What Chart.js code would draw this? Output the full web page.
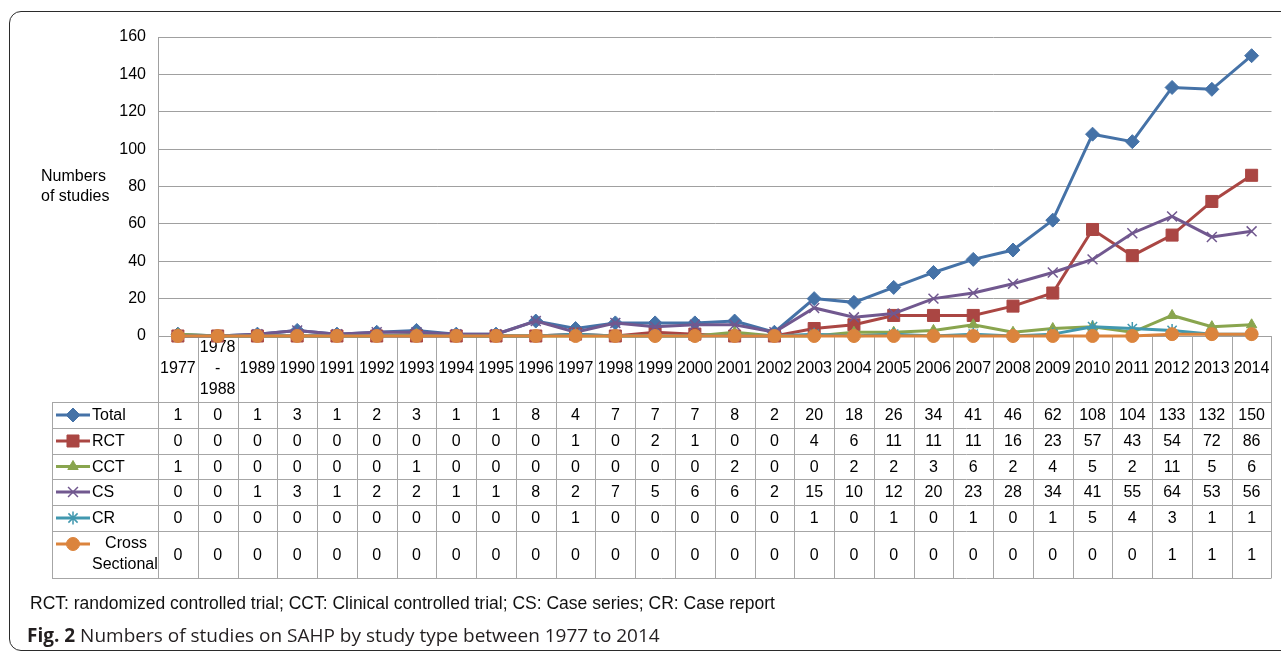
<!DOCTYPE html>
<html>
<head>
<meta charset="utf-8">
<script src="https://cdn.jsdelivr.net/npm/chart.js@4.4.1/dist/chart.umd.min.js"></script>
<style>
  html, body { margin: 0; padding: 0; background: #fff; width: 1281px; height: 654px; overflow: hidden; }
  #frame { position: absolute; left: 9px; top: 11px; width: 1330px; height: 640px; border: 1.5px solid #2b2b2b; border-radius: 12px; box-sizing: border-box; }
  #wrap { position: absolute; left: 0; top: 0; width: 1281px; height: 654px; }
  #note { position: absolute; left: 30px; top: 593px; font: 17.5px "Liberation Sans", Arial, sans-serif; color: #111; white-space: nowrap; }
  #caption { position: absolute; left: 27px; top: 622px; font: 19px "Open Sans", sans-serif; color: #231f20; white-space: nowrap; }
  #caption b { font-weight: 700; }
</style>
</head>
<body>
<div id="frame"></div>
<div id="wrap"><canvas id="myChart" width="1281" height="654"></canvas></div>
<div id="note">RCT: randomized controlled trial; CCT: Clinical controlled trial; CS: Case series; CR: Case report</div>
<div id="caption"><b>Fig. 2</b> Numbers of studies on SAHP by study type between 1977 to 2014</div>
<script>
const years = ['1977', '1978-1988', '1989', '1990', '1991', '1992', '1993', '1994', '1995', '1996',
  '1997', '1998', '1999', '2000', '2001', '2002', '2003', '2004', '2005', '2006',
  '2007', '2008', '2009', '2010', '2011', '2012', '2013', '2014'];

const total = [1, 0, 1, 3, 1, 2, 3, 1, 1, 8, 4, 7, 7, 7, 8, 2, 20, 18, 26, 34, 41, 46, 62, 108, 104, 133, 132, 150];
const rct = [0, 0, 0, 0, 0, 0, 0, 0, 0, 0, 1, 0, 2, 1, 0, 0, 4, 6, 11, 11, 11, 16, 23, 57, 43, 54, 72, 86];
const cct = [1, 0, 0, 0, 0, 0, 1, 0, 0, 0, 0, 0, 0, 0, 2, 0, 0, 2, 2, 3, 6, 2, 4, 5, 2, 11, 5, 6];
const cs = [0, 0, 1, 3, 1, 2, 2, 1, 1, 8, 2, 7, 5, 6, 6, 2, 15, 10, 12, 20, 23, 28, 34, 41, 55, 64, 53, 56];
const cr = [0, 0, 0, 0, 0, 0, 0, 0, 0, 0, 1, 0, 0, 0, 0, 0, 1, 0, 1, 0, 1, 0, 1, 5, 4, 3, 1, 1];
const crossSectional = [0, 0, 0, 0, 0, 0, 0, 0, 0, 0, 0, 0, 0, 0, 0, 0, 0, 0, 0, 0, 0, 0, 0, 0, 0, 1, 1, 1];

const yTicks = [0, 20, 40, 60, 80, 100, 120, 140, 160];

const FONT = '"Liberation Sans", Arial, sans-serif';

function series(label, data, color, style, radius, order) {
  return {
    label, data,
    borderColor: color,
    backgroundColor: color,
    borderWidth: 3,
    pointStyle: style,
    pointRadius: radius,
    pointHoverRadius: radius,
    pointBorderWidth: style === 'crossRot' || style === 'star' ? 1.5 : 1,
    tension: 0,
    clip: false,
    order,
  };
}

const datasets = [
  series('Total', total, '#4572A7', 'rectRot', 7, 6),
  series('RCT', rct, '#AA4643', 'rect', 8.5, 5),
  series('CCT', cct, '#89A54E', 'triangle', 6, 4),
  series('CS', cs, '#71588F', 'crossRot', 7, 3),
  series('CR', cr, '#4198AF', 'star', 6.5, 2),
  series('Cross Sectional', crossSectional, '#DB843D', 'circle', 6.5, 1),
];

// data table under the plot, columns follow the x scale
const dataTable = {
  id: 'dataTable',
  beforeDatasetsDraw(chart) {
    const { ctx, chartArea, scales: { x } } = chart;
    const rows = [402, 428, 454, 479, 505, 531, 578];
    const half = (x.getPixelForValue(1) - x.getPixelForValue(0)) / 2;
    const right = chartArea.right, top = chartArea.bottom;
    ctx.save();
    ctx.strokeStyle = '#a6a6a6';
    ctx.lineWidth = 1;
    ctx.beginPath();
    // column lines
    for (let i = 0; i <= years.length; i++) {
      const cx = Math.round(x.getPixelForValue(i) - half) + 0.5;
      ctx.moveTo(cx, top);
      ctx.lineTo(cx, rows[rows.length - 1]);
    }
    ctx.moveTo(52.5, rows[0]);
    ctx.lineTo(52.5, rows[rows.length - 1]);
    for (const ry of rows) {
      ctx.moveTo(52, ry + 0.5);
      ctx.lineTo(right, ry + 0.5);
    }
    ctx.stroke();

    ctx.fillStyle = '#000';
    ctx.font = '16px ' + FONT;
    ctx.textAlign = 'center';
    ctx.textBaseline = 'middle';
    years.forEach((y, i) => {
      const cx = x.getPixelForValue(i);
      if (y.indexOf('-') > 0) {
        const parts = y.split('-');
        ctx.fillText(parts[0], cx, 348);
        ctx.fillText('-', cx, 369);
        ctx.fillText(parts[1], cx, 390);
      } else {
        ctx.fillText(y, cx, 369);
      }
    });

    datasets.forEach((ds, r) => {
      const cy = (rows[r] + rows[r + 1]) / 2 + 1;
      ds.data.forEach((v, i) => {
        ctx.fillText(String(v), x.getPixelForValue(i), cy);
      });
      // legend key
      const ky = r === 5 ? 544 : cy - 1;
      ctx.strokeStyle = ds.borderColor;
      ctx.lineWidth = 3;
      ctx.beginPath();
      ctx.moveTo(56, ky);
      ctx.lineTo(90, ky);
      ctx.stroke();
      ctx.fillStyle = ds.backgroundColor;
      ctx.lineWidth = ds.pointBorderWidth;
      Chart.helpers.drawPoint(ctx, { pointStyle: ds.pointStyle, radius: ds.pointRadius, borderWidth: ds.pointBorderWidth, rotation: 0 }, 73, ky);
      ctx.fillStyle = '#000';
      if (r === 5) {
        ctx.textAlign = 'center';
        ctx.fillText('Cross', 126, 544);
        ctx.textAlign = 'left';
        ctx.fillText('Sectional', 92, 565);
      } else {
        ctx.textAlign = 'left';
        ctx.fillText(ds.label, 92, cy);
      }
      ctx.textAlign = 'center';
    });

    // y axis title
    ctx.textAlign = 'left';
    ctx.fillText('Numbers', 41, 177);
    ctx.fillText('of studies', 41, 197);
    ctx.restore();
  },
};

const config = {
  type: 'line',
  data: { labels: years, datasets },
  options: {
    responsive: false,
    animation: false,
    events: [],
    layout: { padding: { top: 37, right: 8, bottom: 318, left: 0 } },
    plugins: { legend: { display: false }, tooltip: { enabled: false } },
    scales: {
      x: { display: false, offset: true },
      y: {
        min: 0,
        max: 160,
        afterBuildTicks: (scale) => { scale.ticks = yTicks.map(v => ({ value: v })); },
        afterFit: (scale) => { scale.width = 158; },
        ticks: { color: '#000', font: { family: FONT, size: 16 }, padding: 12 },
        grid: { color: '#a0a0a0', lineWidth: 1, drawTicks: false },
        border: { display: true, color: '#a0a0a0', width: 1 },
      },
    },
  },
  plugins: [dataTable],
};

const myChart = new Chart(document.getElementById('myChart'), config);
</script>
</body>
</html>
